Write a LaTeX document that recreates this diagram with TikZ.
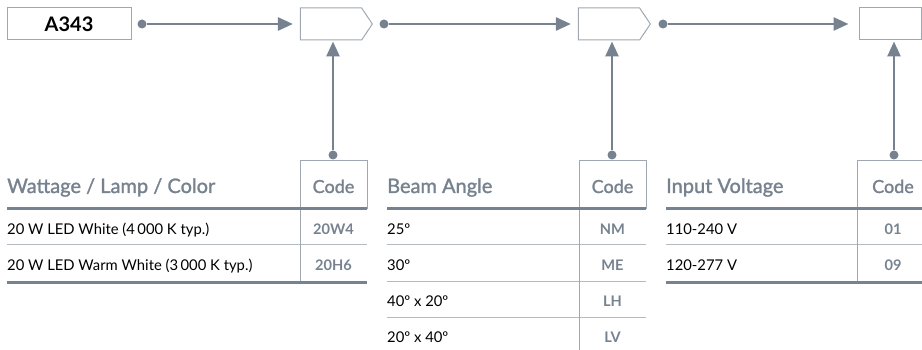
\documentclass[tikz,border=0pt]{standalone}
\usepackage{fontspec}
\setmainfont{Lato}
\newfontfamily\medio{Lato}[FakeBold=1.4]
\usepackage{xcolor}
\usepackage{tikz}
\usetikzlibrary{arrows.meta,shapes.symbols,positioning}
\definecolor{pizarra}{HTML}{76828F}
\definecolor{regla}{HTML}{B3BAC2}
\definecolor{borde}{HTML}{9FA8B1}
\tikzset{
  caja/.style={draw=borde,line width=1pt,minimum height=32pt,inner sep=0pt},
  flecha/.style={-{Triangle[length=15pt,width=13pt]},pizarra,line width=2.6pt},
  punto/.style={circle,fill=pizarra,inner sep=0pt,minimum size=9pt},
  titulo/.style={text=pizarra,font=\fontsize{20}{23}\medio,anchor=base west,inner sep=0pt},
  cod/.style={text=pizarra,font=\fontsize{18}{21}\medio,anchor=base,inner sep=0pt},
  fila/.style={text=black,font=\fontsize{14.8}{17}\selectfont,anchor=base west,inner sep=0pt},
  valor/.style={text=pizarra,font=\fontsize{14.6}{17}\selectfont\bfseries,anchor=base,inner sep=0pt},
  gruesa/.style={pizarra,line width=3pt},
  fina/.style={regla,line width=1pt},
  columna/.style={borde,line width=1pt}
}
\begin{document}
\begin{tikzpicture}[x=1pt,y=-1pt]
\useasboundingbox (0,0) rectangle (922,350);
\node[caja,minimum width=124pt,font=\fontsize{20}{23}\selectfont\bfseries] (modelo) at (69,24) {A343};
\node[caja,signal,signal to=east,signal pointer angle=112,minimum width=72pt] (opc1) at (331,24) {};
\node[caja,signal,signal to=east,signal pointer angle=112,minimum width=72pt] (opc2) at (609,24) {};
\node[caja,minimum width=62pt] (opc3) at (890,24) {};
\node[punto] (s0) at (142,24) {};
\node[punto] (s1) at (384,24) {};
\node[punto] (s2) at (663,24) {};
\draw[flecha,shorten >=7pt] (s0) -- (opc1.west);
\draw[flecha,shorten >=7pt] (s1) -- (s1 -| opc2.west);
\draw[flecha,shorten >=10pt] (s2) -- (opc3.west);
\node[punto] (c1) at (333,155) {};
\node[punto] (c2) at (612,155) {};
\node[punto] (c3) at (894,155) {};
\draw[flecha,shorten >=1pt] (c1) -- (c1 |- opc1.south);
\draw[flecha,shorten >=1pt] (c2) -- (c2 |- opc2.south);
\draw[flecha,shorten >=1pt] (c3) -- (c3 |- opc3.south);
\draw[fina] (7,245) -- (367,245);
\draw[columna] (300,282) -- (300,161) -- (367,161) -- (367,209);
\draw[gruesa] (7,209) -- (367,209);
\draw[gruesa] (7,282) -- (367,282);
\node[titulo] (t1) at (7,193) {Wattage / Lamp / Color};
\node[cod] (k1) at (333.5,193) {Code};
\node[fila] (f11) at (7,234) {20 W LED White (4\,000 K typ.)};
\node[fila] (f12) at (7,270) {20 W LED Warm White (3\,000 K typ.)};
\node[valor] (v11) at (333.5,234) {20W4};
\node[valor] (v12) at (333.5,270) {20H6};
\draw[fina] (387,245) -- (646,245);
\draw[fina] (387,281) -- (646,281);
\draw[fina] (387,317) -- (646,317);
\draw[columna] (579,350) -- (579,161) -- (646,161) -- (646,209);
\draw[gruesa] (387,209) -- (646,209);
\node[titulo] (t2) at (387,193) {Beam Angle};
\node[cod] (k2) at (612.5,193) {Code};
\node[fila] (f21) at (387,234) {25º};
\node[fila] (f22) at (387,270) {30º};
\node[fila] (f23) at (387,306) {40º x 20º};
\node[fila] (f24) at (387,342) {20º x 40º};
\node[valor] (v21) at (612.5,234) {NM};
\node[valor] (v22) at (612.5,270) {ME};
\node[valor] (v23) at (612.5,306) {LH};
\node[valor] (v24) at (612.5,342) {LV};
\draw[fina] (666,245) -- (922,245);
\draw[columna] (857,282) -- (857,161) -- (922,161);
\draw[gruesa] (666,209) -- (922,209);
\draw[gruesa] (666,282) -- (922,282);
\node[titulo] (t3) at (666,193) {Input Voltage};
\node[cod] (k3) at (893,193) {Code};
\node[fila] (f31) at (666,234) {110-240 V};
\node[fila] (f32) at (666,270) {120-277 V};
\node[valor] (v31) at (893,234) {01};
\node[valor] (v32) at (893,270) {09};
\end{tikzpicture}
\end{document}
